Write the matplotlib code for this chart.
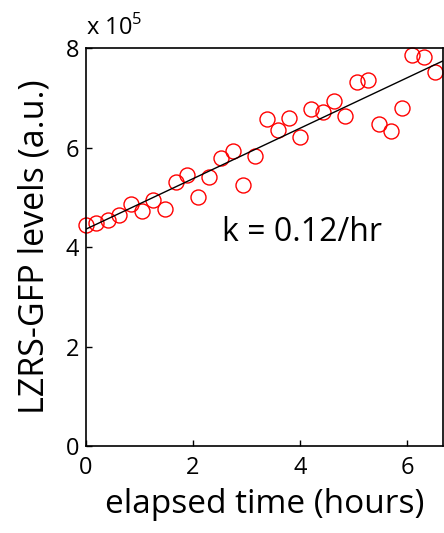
import numpy as np
import matplotlib
matplotlib.use('Agg')
import matplotlib.pyplot as plt
from matplotlib.transforms import offset_copy

plt.rcParams['font.family'] = ['Open Sans', 'DejaVu Sans']
plt.rcParams['mathtext.fontset'] = 'custom'
plt.rcParams['mathtext.rm'] = 'Open Sans'

# elapsed time (hours) and LZRS-GFP levels (units of 1e5, a.u.)
time_hr = [0.00, 0.19, 0.41, 0.62, 0.84, 1.04, 1.25, 1.47, 1.68, 1.88, 2.09,
           2.29, 2.52, 2.74, 2.93, 3.15, 3.38, 3.58, 3.79, 3.99, 4.20, 4.42,
           4.63, 4.83, 5.06, 5.26, 5.47, 5.69, 5.90, 6.10, 6.32, 6.53]
gfp = [4.44, 4.48, 4.54, 4.64, 4.87, 4.72, 4.95, 4.76, 5.31, 5.45, 5.00,
       5.41, 5.79, 5.93, 5.25, 5.83, 6.57, 6.35, 6.59, 6.21, 6.77, 6.71,
       6.93, 6.63, 7.32, 7.36, 6.47, 6.33, 6.79, 7.86, 7.82, 7.52]

# linear fit line
fit_b = 4.36
fit_m = 0.507

xmax = 6.67
xt = [0, 2, 4, 6]
yt = [0, 2, 4, 6, 8]

fig = plt.figure(figsize=(4.44, 5.33), dpi=100)
ax = fig.add_axes([0.1937, 0.1632, 0.804, 0.7467])

ax.plot(time_hr, gfp, 'o', mfc='none', mec='red', ms=10.8, mew=1.0, clip_on=False)
xl = np.array([0, xmax])
ax.plot(xl, fit_b + fit_m * xl, 'k-', lw=1.0)

ax.set_xlim(0, xmax)
ax.set_ylim(0, 8)
ax.set_xticks(xt)
ax.set_yticks(yt)
ax.tick_params(direction='in', length=4, width=1, labelsize=17)
ax.tick_params(axis='x', pad=7)
ax.tick_params(axis='y', pad=5)
for s in ax.spines.values():
    s.set_linewidth(1.2)

ax.set_xlabel('elapsed time (hours)', fontsize=24, labelpad=6)
ax.set_ylabel('LZRS-GFP levels (a.u.)', fontsize=24.5, labelpad=10)
tr = offset_copy(ax.transAxes, fig=fig, x=0, y=13, units='dots')
ax.text(0.0, 1.0, r'x 10$^5$', transform=tr, fontsize=17,
        ha='left', va='baseline')
ax.text(2.54, 4.30, 'k = 0.12/hr', fontsize=23, ha='left', va='center')

fig.savefig('out.png', dpi=100)
